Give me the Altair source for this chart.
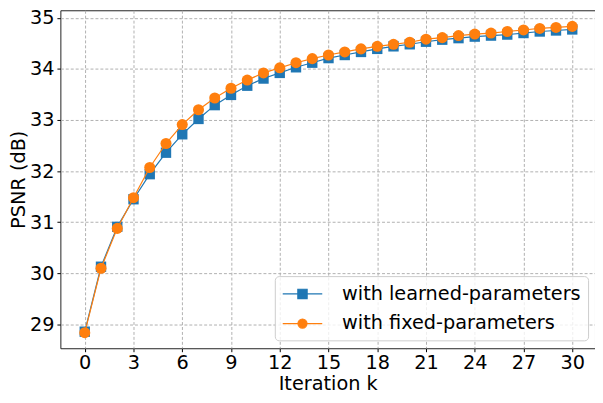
import altair as alt
import pandas as pd

iterations = list(range(31))
learned = [28.86, 30.13, 30.91, 31.45, 31.94, 32.36, 32.72, 33.02, 33.29, 33.49,
           33.67, 33.81, 33.92, 34.03, 34.12, 34.21, 34.27, 34.33, 34.39, 34.44,
           34.48, 34.53, 34.57, 34.60, 34.63, 34.65, 34.67, 34.70, 34.73, 34.75, 34.77]
fixed = [28.84, 30.10, 30.88, 31.48, 32.07, 32.54, 32.91, 33.20, 33.43, 33.62,
         33.78, 33.92, 34.02, 34.12, 34.20, 34.27, 34.33, 34.39, 34.44, 34.48,
         34.52, 34.58, 34.61, 34.65, 34.68, 34.70, 34.73, 34.76, 34.79, 34.81, 34.83]
series_names = ["with learned-parameters", "with fixed-parameters"]
colors = ["#1f77b4", "#ff7f0e"]
x_ticks = list(range(0, 31, 3))
y_ticks = list(range(29, 36))

rows = []
for name, vals in zip(series_names, [learned, fixed]):
    for k, v in zip(iterations, vals):
        rows.append({"k": k, "psnr": v, "series": name})
df = pd.DataFrame(rows)

FONT = "DejaVu Sans"
FS = 19.5
sq_path = "M-2,0L2,0M-0.47,-0.47L0.47,-0.47L0.47,0.47L-0.47,0.47Z"
ci_path = "M-2,0L2,0M0.46,0A0.46,0.46 0 1 1 -0.46,0A0.46,0.46 0 1 1 0.46,0Z"
is_first = f"datum.value === '{series_names[0]}'"

legend = alt.Legend(
    title=None, orient="none", legendX=217, legendY=269,
    symbolSize=400, symbolOffset=10, labelOffset=29, padding=7, rowPadding=9,
    fillColor="rgba(255,255,255,0.8)", strokeColor="#cccccc", cornerRadius=4,
    labelFont=FONT, labelFontSize=FS, labelColor="black", labelLimit=400,
    symbolType={"expr": f"{is_first} ? '{sq_path}' : '{ci_path}'"},
    symbolFillColor={"expr": f"{is_first} ? '{colors[0]}' : '{colors[1]}'"},
    symbolStrokeColor={"expr": f"{is_first} ? '{colors[0]}' : '{colors[1]}'"},
    symbolStrokeWidth=1.2, symbolOpacity=1,
)

x = alt.X("k:Q", scale=alt.Scale(domain=[-1.5, 31.4], nice=False, zero=False),
          axis=alt.Axis(values=x_ticks, title="Iteration k", labelPadding=2, titlePadding=3))
y = alt.Y("psnr:Q", scale=alt.Scale(domain=[28.536, 35.145], nice=False, zero=False),
          axis=alt.Axis(values=y_ticks, title="PSNR (dB)", labelPadding=3, titlePadding=1))
color = alt.Color("series:N", scale=alt.Scale(domain=series_names, range=colors), legend=legend)

base = alt.Chart(df).encode(x=x, y=y, color=color)

layers = []
for name, shape, size in [(series_names[0], "square", 110), (series_names[1], "circle", 125)]:
    sub = base.transform_filter(alt.datum.series == name)
    layers.append(sub.mark_line(strokeWidth=1.2))
    layers.append(sub.mark_point(shape=shape, filled=True, size=size, opacity=1))

chart = alt.layer(*layers).properties(
    width=541, height=342,
    padding={"left": 53, "top": 0, "right": 0, "bottom": 45},
    autosize=alt.AutoSizeParams(type="none"),
).configure_view(
    stroke="#222222", strokeWidth=1
).configure_axis(
    labelFont=FONT, labelFontSize=FS, labelColor="black",
    titleFont=FONT, titleFontSize=FS, titleFontWeight="normal", titleColor="black",
    tickColor="black", tickSize=3.5, tickWidth=1, domain=False,
    grid=True, gridColor="#b0b0b0", gridDash=[3, 2], gridWidth=1,
)

chart.save("out.html", embed_options={"renderer": "svg", "actions": False})
